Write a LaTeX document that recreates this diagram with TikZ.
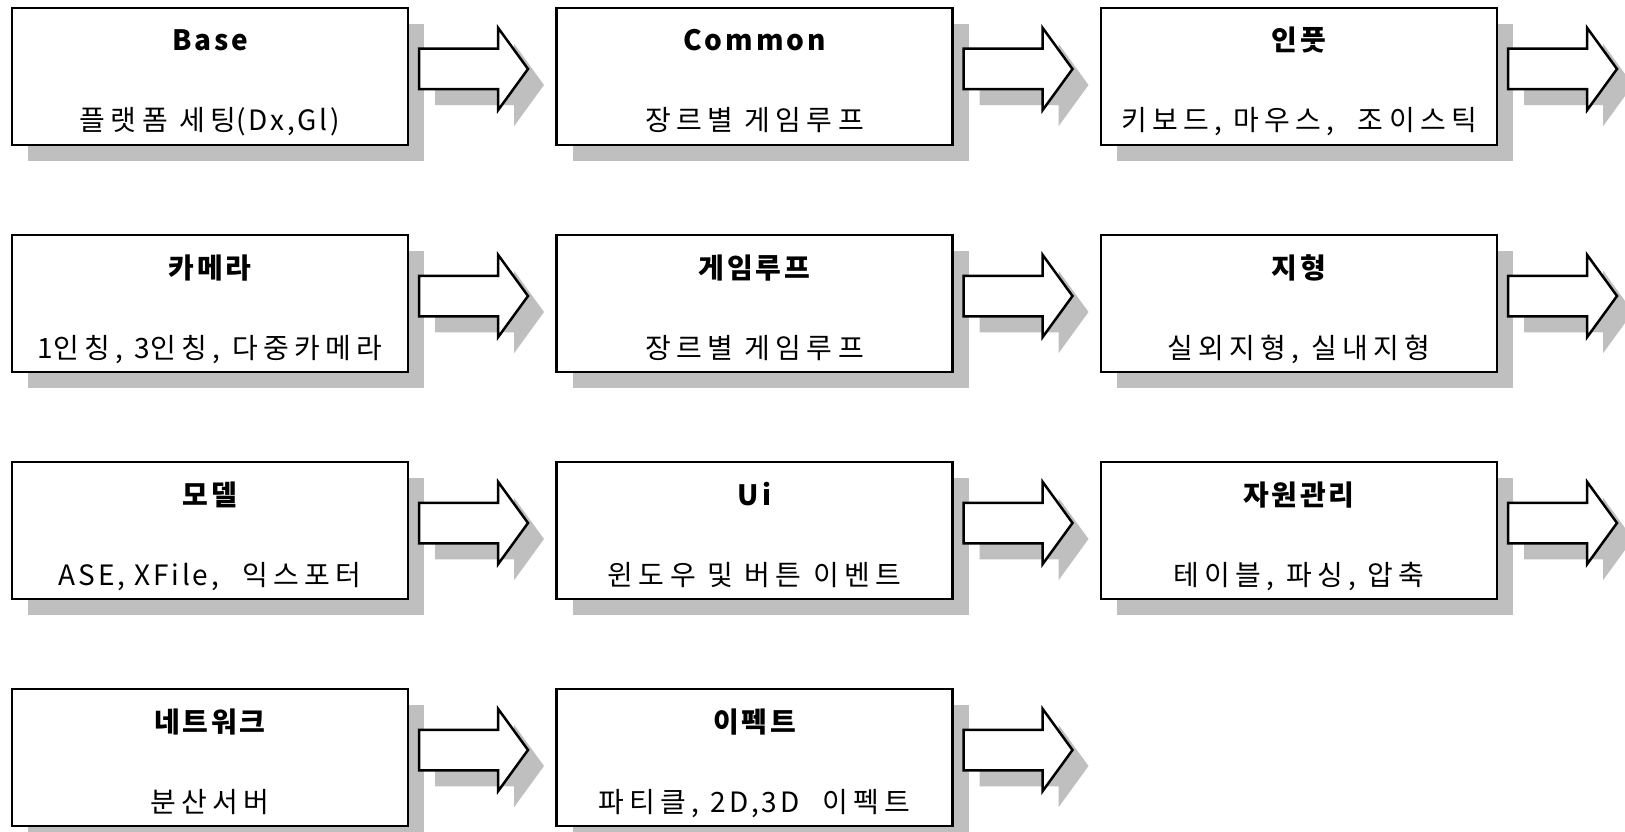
\documentclass[tikz,border=0pt]{standalone}
\usepackage{fontspec}
\setmainfont{Noto Sans CJK KR}[LetterSpace=10]
\newfontfamily\hgsub{Noto Sans CJK KR}[LetterSpace=19]
\newfontfamily\ltsub{Noto Sans CJK KR}[LetterSpace=10]
\usetikzlibrary{shapes.arrows,shadows,calc}
\newcommand\gbox[5]{%
  \node[box] (#1) at (#2,#3) {};
  \node[ttl] (#1t) at ($(#1.north)+(0,43)$) {#4};
  \node[sub] (#1s) at ($(#1.north)+(0,123)$) {#5};
}
\newcommand\lt[1]{{\ltsub #1}}
\begin{document}
\begin{tikzpicture}[x=1pt,y=-1pt,
  shd/.style={drop shadow={shadow xshift=16pt,shadow yshift=-16pt,fill=black!25,opacity=1}},
  box/.style={draw,line width=2.5pt,fill=white,minimum width=396pt,minimum height=137pt,inner sep=0pt,outer sep=0pt,shd},
  ttl/.style={anchor=base,inner sep=0pt,font=\fontsize{28}{32}\selectfont\bfseries},
  sub/.style={anchor=base,inner sep=0pt,font=\fontsize{28}{32}\selectfont\hgsub},
  blockarrow/.style={single arrow,draw,line width=2.5pt,fill=white,minimum height=109pt,
    inner xsep=0pt,inner ysep=19pt,single arrow head extend=21pt,single arrow tip angle=108,outer sep=0pt,shd}]
\clip (0,0) rectangle (1625,832);
\useasboundingbox (0,0) rectangle (1625,832);
\fill[white] (0,0) rectangle (1625,832);
% row 1
\gbox{b11}{210}{76.5}{Base}{플랫폼 세팅\lt{(Dx,Gl)}}
\gbox{b12}{754.5}{76.5}{Common}{장르별 게임루프}
\gbox{b13}{1299}{76.5}{인풋}{키보드, 마우스,\ \ 조이스틱}
% row 2
\gbox{b21}{210}{303.5}{카메라}{\lt{1}인칭, \lt{3}인칭, 다중카메라}
\gbox{b22}{754.5}{303.5}{게임루프}{장르별 게임루프}
\gbox{b23}{1299}{303.5}{지형}{실외지형, 실내지형}
% row 3
\gbox{b31}{210}{530.5}{모델}{\lt{ASE, XFile,}\ \ 익스포터}
\gbox{b32}{754.5}{530.5}{Ui}{윈도우 및 버튼 이벤트}
\gbox{b33}{1299}{530.5}{자원관리}{테이블, 파싱, 압축}
% row 4
\gbox{b41}{210}{757.5}{네트워크}{분산서버}
\gbox{b42}{754.5}{757.5}{이펙트}{파티클, \lt{2D,3D}\ \ 이펙트}
% arrows
\foreach \n in {b11,b12,b13,b21,b22,b23,b31,b32,b33,b41,b42}{
  \node[blockarrow,anchor=tail] (a\n) at ($(\n.east)+(11,-7.5)$) {};
}
\end{tikzpicture}
\end{document}
